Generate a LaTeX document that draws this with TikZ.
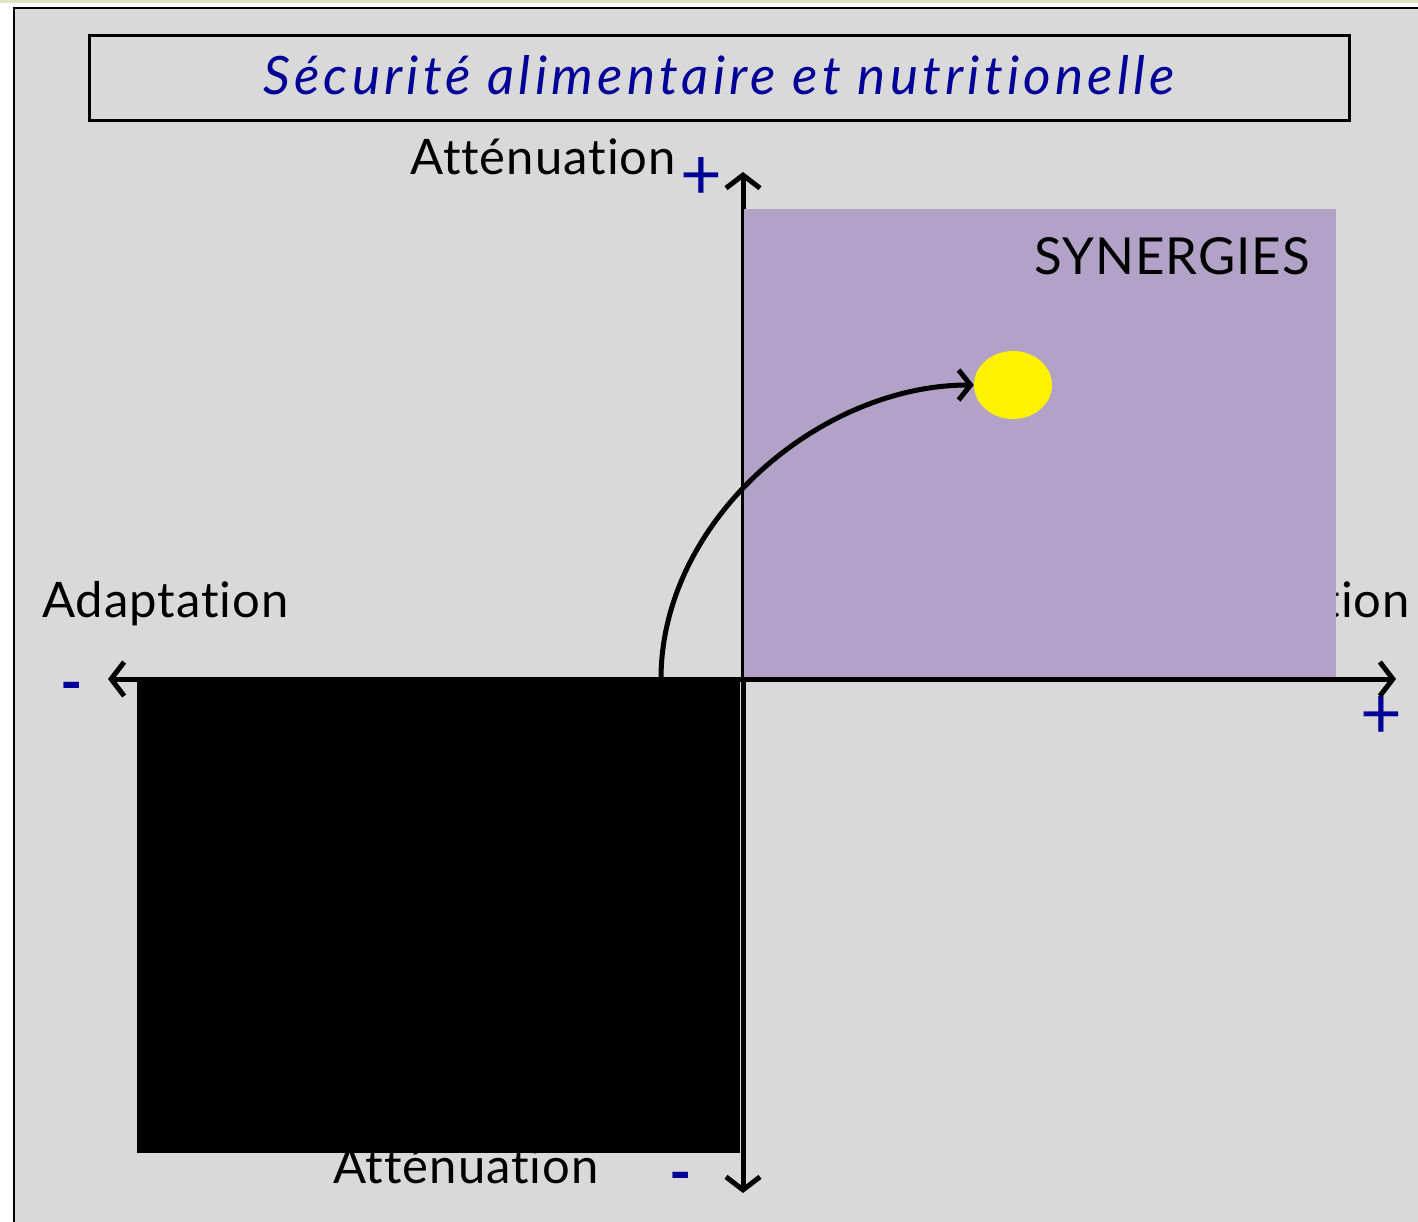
\documentclass[tikz,border=0pt]{standalone}
\usepackage{fontspec}
\setmainfont{Lato}[Ligatures=NoCommon]
\usetikzlibrary{arrows.meta,shapes.geometric}
\definecolor{panelgray}{HTML}{D9D9D9}
\definecolor{synpurple}{HTML}{B2A2C8}
\definecolor{signblue}{HTML}{000099}
\definecolor{stripgreen}{HTML}{DDE5C8}
\newfontfamily\labelfont{Lato}[Ligatures=NoCommon, LetterSpace=2]
\newfontfamily\titlefont{Lato}[Ligatures=NoCommon, LetterSpace=8]
\tikzset{
    axisline/.style={line width=5pt, -{Straight Barb[length=13pt,width=34pt]}},
    axislabel/.style={inner sep=0pt, font=\labelfont\fontsize{49}{49}\selectfont},
    pluslabel/.style={inner sep=0pt, anchor=base, text=signblue, font=\fontsize{72}{72}\selectfont},
    minuslabel/.style={inner sep=0pt, anchor=base, text=signblue, font=\fontsize{60}{60}\selectfont\bfseries},
}
\begin{document}
\begin{tikzpicture}[x=1pt, y=-1pt]
    \useasboundingbox (0,0) rectangle (1418,1222);
    \fill[white] (0,0) rectangle (1418,1222);
    \fill[stripgreen] (0,0) rectangle (1418,3);
    \fill[panelgray] (14,8) rectangle (1418,1222);
    \draw[line width=2pt] (14,1222) -- (14,8) -- (1418,8);

    % title
    \draw[line width=3pt] (89,36) rectangle (1349,121);
    \node[inner sep=0pt, anchor=base, text=signblue, font=\titlefont\fontsize{53}{53}\selectfont\itshape] (title) at (719,95) {Sécurité alimentaire et nutritionelle};

    % axis labels (partly hidden by the quadrants)
    \node[axislabel, anchor=base east] (attentop) at (676,175) {Atténuation};
    \node[pluslabel] (plustop) at (701,200) {+};
    \node[axislabel, anchor=base west] (adaptleft) at (42,617) {Adaptation};
    \node[axislabel, anchor=base east] (adaptright) at (1410,617) {Adaptation};
    \node[minuslabel] (minusleft) at (72,703) {-};
    \node[pluslabel] (plusright) at (1381,738) {+};
    \node[axislabel, anchor=base west] (attenbot) at (333,1183) {Atténuation};
    \node[minuslabel] (minusbot) at (681,1193) {-};

    \coordinate (origin) at (743,679);
    \coordinate (ytop) at (743,172);
    \coordinate (ybot) at (743,1193);
    \coordinate (xleft) at (108,679);
    \coordinate (xright) at (1396,679);

    \draw[axisline] (origin) -- (ytop);
    \draw[axisline] (origin) -- (ybot);

    % quadrant of synergies
    \fill[synpurple] (743,209) rectangle (1336,677);
    \draw[line width=1pt] (743,209) -- (origin);

    \draw[axisline] (origin) -- (xright);
    \draw[axisline] (origin) -- (xleft);

    \fill[black] (137,677) rectangle (740,1153);

    \node[inner sep=0pt, anchor=base east, font=\labelfont\fontsize{51}{51}\selectfont] (synergies) at (1310,275) {SYNERGIES};
    \node[ellipse, fill=yellow, minimum width=78pt, minimum height=68pt, inner sep=0pt] (goal) at (1013,385) {};

    \coordinate (start) at (661,679);
    \draw[line width=5pt, -{Straight Barb[length=12pt,width=30pt]}] (start) .. controls (661,520) and (820,385) .. (goal.west);
\end{tikzpicture}
\end{document}
